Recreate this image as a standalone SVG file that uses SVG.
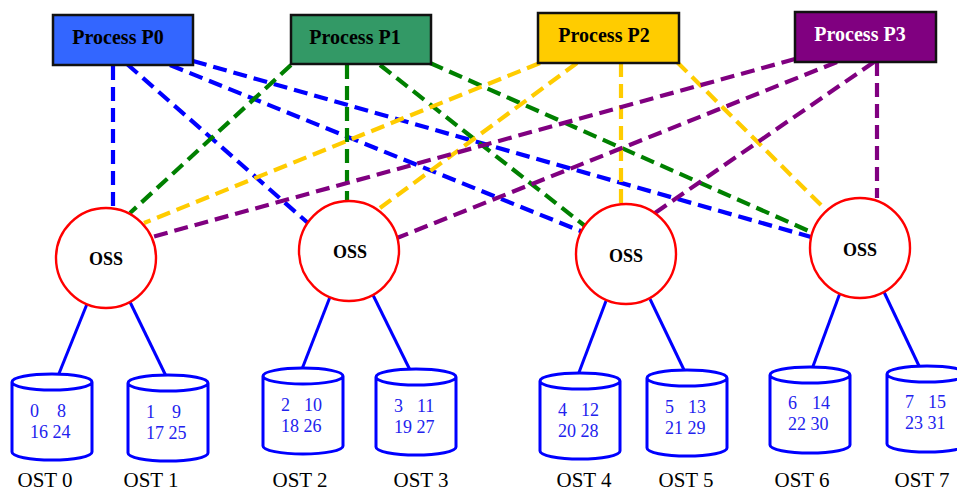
<svg xmlns="http://www.w3.org/2000/svg" width="957" height="491" viewBox="0 0 957 491">
<style>
.proc{stroke:#111;stroke-width:2.5}
.ptxt{font-family:"Liberation Serif","Times New Roman",serif;font-weight:bold;font-size:20px;text-anchor:middle}
.oss{fill:#fff;stroke:#ff0000;stroke-width:2.4}
.osstxt{font-family:"Liberation Serif","Times New Roman",serif;font-weight:bold;font-size:18px;text-anchor:middle;fill:#000}
.cyl{fill:#fff;stroke:#0000ff;stroke-width:3}
.num{font-family:"Liberation Serif","Times New Roman",serif;font-size:18px;fill:#2222ee}
.lbl{font-family:"Liberation Serif","Times New Roman",serif;font-size:21px;fill:#000;text-anchor:middle}
.d{fill:none;stroke-width:4.2;stroke-dasharray:14 7}
.b{stroke:#0000ff}.g{stroke:#008000}.y{stroke:#ffcc00}.p{stroke:#800080}
.solid{stroke:#0000ff;stroke-width:3;fill:none}
</style>
<rect width="957" height="491" fill="#fff"/>
<g id="connectors">
<line class="d b" x1="113" y1="66" x2="113" y2="208"/>
<line class="d b" x1="127" y1="64" x2="308" y2="223"/>
<line class="d b" x1="170" y1="65" x2="583" y2="232"/>
<line class="d b" x1="193" y1="61" x2="811" y2="237"/>
<line class="d g" x1="291" y1="65" x2="130" y2="213"/>
<line class="d g" x1="347" y1="65" x2="347" y2="202"/>
<line class="d g" x1="380" y1="65" x2="585" y2="226"/>
<line class="d g" x1="430" y1="63" x2="811" y2="232"/>
<line class="d y" x1="540" y1="63" x2="144" y2="223"/>
<line class="d y" x1="577" y1="63" x2="380" y2="208"/>
<line class="d y" x1="621" y1="63" x2="621" y2="203"/>
<line class="d y" x1="677" y1="62" x2="827" y2="211"/>
<line class="d p" x1="795" y1="59" x2="152" y2="237"/>
<line class="d p" x1="837" y1="62" x2="397" y2="238"/>
<line class="d p" x1="874" y1="62" x2="652" y2="215"/>
<line class="d p" x1="877" y1="62" x2="877" y2="198"/>
<line class="solid" x1="87" y1="304" x2="58" y2="376"/>
<line class="solid" x1="130" y1="302" x2="166" y2="376"/>
<line class="solid" x1="330" y1="297" x2="302" y2="369"/>
<line class="solid" x1="373" y1="295" x2="410" y2="370"/>
<line class="solid" x1="606" y1="301" x2="578" y2="375"/>
<line class="solid" x1="650" y1="299" x2="685" y2="372"/>
<line class="solid" x1="840" y1="293" x2="812" y2="369"/>
<line class="solid" x1="884" y1="292" x2="920" y2="368"/>
</g>
<g id="p0"><rect class="proc" x="53" y="15" width="140" height="50" fill="#3366ff"/><text class="ptxt" x="118" y="44" fill="#000">Process P0</text></g>
<g id="p1"><rect class="proc" x="291" y="15" width="140" height="49" fill="#339966"/><text class="ptxt" x="355" y="44" fill="#000">Process P1</text></g>
<g id="p2"><rect class="proc" x="538" y="13" width="141" height="50" fill="#ffcc00"/><text class="ptxt" x="604" y="42" fill="#000">Process P2</text></g>
<g id="p3"><rect class="proc" x="795" y="12" width="141" height="50" fill="#800080"/><text class="ptxt" x="860" y="41" fill="#fff">Process P3</text></g>
<g id="oss0"><circle class="oss" cx="106" cy="258" r="50"/><text class="osstxt" x="106" y="265">OSS</text></g>
<g id="oss1"><circle class="oss" cx="349" cy="251" r="50"/><text class="osstxt" x="350" y="258">OSS</text></g>
<g id="oss2"><circle class="oss" cx="626" cy="254" r="50"/><text class="osstxt" x="626" y="262">OSS</text></g>
<g id="oss3"><circle class="oss" cx="860" cy="248" r="50"/><text class="osstxt" x="860" y="256">OSS</text></g>
<g id="ost0">
<path class="cyl" d="M12,382 V452 A40,8 0 0 0 92,452 V382 A40,8 0 0 0 12,382 A40,8 0 0 0 92,382"/>
<text class="num" x="30" y="417">0</text><text class="num" x="57" y="417">8</text>
<text class="num" x="30" y="438">16 24</text>
<text class="lbl" x="45" y="487">OST 0</text></g>
<g id="ost1">
<path class="cyl" d="M128,383 V453 A40,8 0 0 0 208,453 V383 A40,8 0 0 0 128,383 A40,8 0 0 0 208,383"/>
<text class="num" x="146" y="418">1</text><text class="num" x="172" y="418">9</text>
<text class="num" x="146" y="439">17 25</text>
<text class="lbl" x="151" y="487">OST 1</text></g>
<g id="ost2">
<path class="cyl" d="M263,376 V446 A40,8 0 0 0 343,446 V376 A40,8 0 0 0 263,376 A40,8 0 0 0 343,376"/>
<text class="num" x="281" y="411">2</text><text class="num" x="304" y="411">10</text>
<text class="num" x="281" y="432">18 26</text>
<text class="lbl" x="300" y="487">OST 2</text></g>
<g id="ost3">
<path class="cyl" d="M376,377 V447 A40,8 0 0 0 456,447 V377 A40,8 0 0 0 376,377 A40,8 0 0 0 456,377"/>
<text class="num" x="394" y="412">3</text><text class="num" x="417" y="412">11</text>
<text class="num" x="394" y="433">19 27</text>
<text class="lbl" x="421" y="487">OST 3</text></g>
<g id="ost4">
<path class="cyl" d="M540,381 V451 A40,8 0 0 0 620,451 V381 A40,8 0 0 0 540,381 A40,8 0 0 0 620,381"/>
<text class="num" x="558" y="416">4</text><text class="num" x="581" y="416">12</text>
<text class="num" x="558" y="437">20 28</text>
<text class="lbl" x="584" y="487">OST 4</text></g>
<g id="ost5">
<path class="cyl" d="M647,378 V448 A40,8 0 0 0 727,448 V378 A40,8 0 0 0 647,378 A40,8 0 0 0 727,378"/>
<text class="num" x="665" y="413">5</text><text class="num" x="688" y="413">13</text>
<text class="num" x="665" y="434">21 29</text>
<text class="lbl" x="686" y="487">OST 5</text></g>
<g id="ost6">
<path class="cyl" d="M770,375 V445 A40,8 0 0 0 850,445 V375 A40,8 0 0 0 770,375 A40,8 0 0 0 850,375"/>
<text class="num" x="788" y="409">6</text><text class="num" x="812" y="409">14</text>
<text class="num" x="788" y="430">22 30</text>
<text class="lbl" x="802" y="487">OST 6</text></g>
<g id="ost7">
<path class="cyl" d="M887,374 V444 A40,8 0 0 0 967,444 V374 A40,8 0 0 0 887,374 A40,8 0 0 0 967,374"/>
<text class="num" x="905" y="408">7</text><text class="num" x="928" y="408">15</text>
<text class="num" x="905" y="429">23 31</text>
<text class="lbl" x="922" y="487">OST 7</text></g>
</svg>
